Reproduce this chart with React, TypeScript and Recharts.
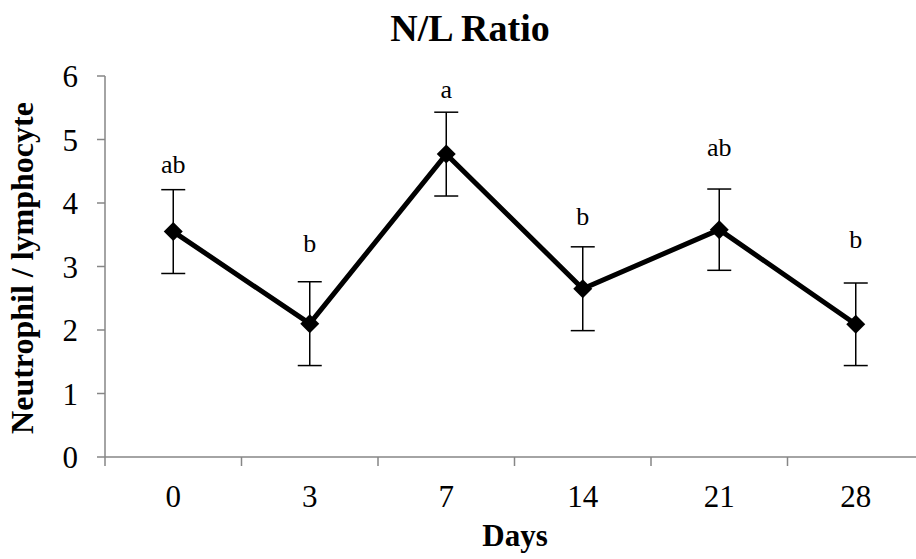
import { LineChart, Line, XAxis, YAxis, ErrorBar, LabelList } from "recharts"

// N/L ratio by sampling day
const days = ["0", "3", "7", "14", "21", "28"]
const ratio = [3.55, 2.1, 4.77, 2.65, 3.58, 2.09]
const sem = [0.66, 0.66, 0.66, 0.66, 0.64, 0.65]
const letters = ["ab", "b", "a", "b", "ab", "b"]
const letterAt = [4.47, 3.23, 5.65, 3.66, 4.74, 3.29]
const yTicks = [0, 1, 2, 3, 4, 5, 6]

const data = days.map((d, i) => ({
  day: d,
  ratio: ratio[i],
  sem: sem[i],
  letter: letters[i],
  letterAt: letterAt[i],
}))

const CHART_W = 930
const CHART_H = 559
const MARGIN = { top: 76, right: 6, bottom: 0, left: 0 }
const Y_W = 105
const HALF_BAND = (CHART_W - MARGIN.left - MARGIN.right - Y_W) / days.length / 2
const AXIS = "#868686"
const FONT = "'Liberation Serif', 'Times New Roman', serif"

function Diamond(props: any) {
  const { cx, cy } = props
  if (cx == null || cy == null) return null
  const r = 9.5
  return <polygon points={`${cx},${cy - r} ${cx + r},${cy} ${cx},${cy + r} ${cx - r},${cy}`} fill="#000" />
}

function DayTick(props: any) {
  const { x, y, payload, index } = props
  return (
    <g>
      <line x1={x - HALF_BAND} x2={x - HALF_BAND} y1={y} y2={y + 9} stroke={AXIS} strokeWidth={1.5} />
      {index === days.length - 1 && (
        <line x1={x + HALF_BAND} x2={x + HALF_BAND} y1={y} y2={y + 9} stroke={AXIS} strokeWidth={1.5} />
      )}
      <text x={x} y={y + 50} textAnchor="middle" fontSize={31} fontFamily={FONT} fill="#000">
        {payload.value}
      </text>
    </g>
  )
}

function Letter(props: any) {
  const { x, y, value } = props
  return (
    <text x={x} y={y} textAnchor="middle" fontSize={26} fontFamily={FONT} fill="#000">
      {value}
    </text>
  )
}

export default function App() {
  return (
    <div style={{ position: "absolute", left: 0, top: 0, width: 916, height: 559, overflow: "hidden", background: "#fff" }}>
      <LineChart width={CHART_W} height={CHART_H} data={data} margin={MARGIN}>
        <XAxis
          dataKey="day"
          scale="band"
          height={CHART_H - 457 - MARGIN.bottom}
          stroke={AXIS}
          strokeWidth={1.5}
          tickLine={false}
          tickSize={0}
          tickMargin={0}
          tick={<DayTick />}
          interval={0}
        />
        <YAxis
          domain={[0, 6]}
          ticks={yTicks}
          width={Y_W}
          stroke={AXIS}
          strokeWidth={1.5}
          tickSize={8}
          tickMargin={19}
          tick={{ fontSize: 31, fontFamily: FONT, fill: "#000" }}
          interval={0}
        />
        <Line
          dataKey="ratio"
          stroke="#000"
          strokeWidth={5}
          dot={<Diamond />}
          activeDot={false}
          isAnimationActive={false}
        >
          <ErrorBar dataKey="sem" width={12} stroke="#000" strokeWidth={1.5} direction="y" />
        </Line>
        <Line
          dataKey="letterAt"
          stroke="none"
          dot={false}
          activeDot={false}
          isAnimationActive={false}
        >
          <LabelList dataKey="letter" content={<Letter />} />
        </Line>
      </LineChart>
      <svg width={916} height={559} style={{ position: "absolute", left: 0, top: 0, pointerEvents: "none" }}>
        <text x={470} y={41} textAnchor="middle" fontSize={38} fontWeight="bold" fontFamily={FONT} fill="#000">
          N/L Ratio
        </text>
        <text
          transform="translate(33,268) rotate(-90)"
          textAnchor="middle"
          fontSize={32}
          fontWeight="bold"
          fontFamily={FONT}
          fill="#000"
        >
          Neutrophil / lymphocyte
        </text>
        <text x={515} y={546} textAnchor="middle" fontSize={31} fontWeight="bold" fontFamily={FONT} fill="#000">
          Days
        </text>
      </svg>
    </div>
  )
}
